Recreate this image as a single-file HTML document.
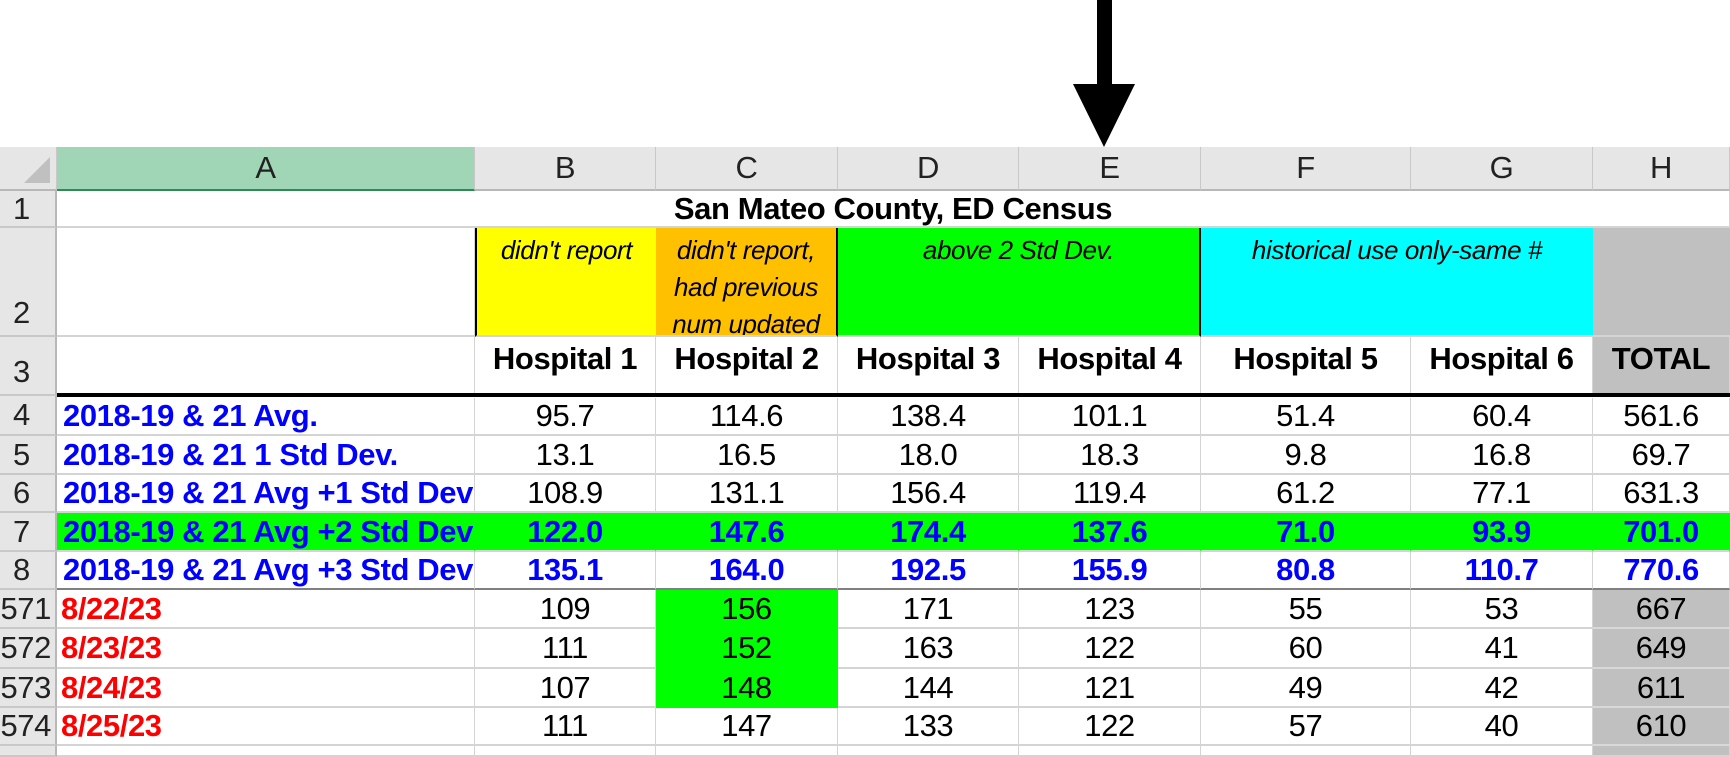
<!DOCTYPE html>
<html><head><meta charset="utf-8">
<style>
html,body{margin:0;padding:0;background:#fff;overflow:hidden;}
body{width:1730px;height:757px;position:relative;overflow:hidden;font-family:"Liberation Sans",Arial,sans-serif;}
.c{position:absolute;box-sizing:border-box;border-right:1px solid #d4d4d4;border-bottom:2px solid #d4d4d4;font-size:31px;letter-spacing:-0.4px;color:#000;display:flex;align-items:center;justify-content:center;white-space:nowrap;overflow:visible;}
.hd{background:#e6e6e6;color:#222;border-right:1px solid #c8c8c8;border-bottom:2px solid #b8b8b8;}
.rh{background:#e6e6e6;color:#222;border-right:2px solid #b8b8b8;border-bottom:2px solid #c8c8c8;justify-content:flex-end;padding-right:4px;overflow:hidden;}
.b{font-weight:bold;}
.blue{color:#0000ff;font-weight:bold;}
.red{color:#ff0000;font-weight:bold;}
.it{font-style:italic;font-size:26px;align-items:flex-start;padding-top:4px;line-height:37px;text-align:center;white-space:normal;}
</style></head>
<body>
<div id="sheet"></div>
<svg style="position:absolute;left:1060px;top:0" width="90" height="150">
<rect x="37" y="0" width="15" height="90" fill="#000"/>
<polygon points="13,84 75,84 44,147" fill="#000"/>
</svg>
<script>
const colLetters=["A","B","C","D","E","F","G","H"];
const hospitals=["Hospital 1","Hospital 2","Hospital 3","Hospital 4","Hospital 5","Hospital 6","TOTAL"];
const statLabels=["2018-19 & 21 Avg.","2018-19 & 21 1 Std Dev.","2018-19 & 21 Avg +1 Std Dev","2018-19 & 21 Avg +2 Std Dev","2018-19 & 21 Avg +3 Std Dev"];
const statValues=[
["95.7","114.6","138.4","101.1","51.4","60.4","561.6"],
["13.1","16.5","18.0","18.3","9.8","16.8","69.7"],
["108.9","131.1","156.4","119.4","61.2","77.1","631.3"],
["122.0","147.6","174.4","137.6","71.0","93.9","701.0"],
["135.1","164.0","192.5","155.9","80.8","110.7","770.6"]];
const dateRows=["6571","6572","6573","6574"];
const dates=["8/22/23","8/23/23","8/24/23","8/25/23"];
const dateValues=[
["109","156","171","123","55","53","667"],
["111","152","163","122","60","41","649"],
["107","148","144","121","49","42","611"],
["111","147","133","122","57","40","610"]];

const X=[0,57,475,656,838,1019,1201,1411,1593,1730];
const Y=[147,191,228,337,396,436,475,513,552,590,629,669,708,746,757];
const S=document.getElementById('sheet');
function cell(x0,x1,y0,y1,cls,txt,style){
  const d=document.createElement('div');
  d.className='c '+(cls||'');
  d.style.left=x0+'px';d.style.top=y0+'px';d.style.width=(x1-x0)+'px';d.style.height=(y1-y0)+'px';
  if(style)d.style.cssText+=style;
  d.innerHTML=txt||'';
  S.appendChild(d);return d;
}
let e;
e=cell(0,X[1],Y[0],Y[1],'hd','<svg width="30" height="30" style="position:absolute;left:22px;top:8px"><polygon points="28,2 28,28 2,28" fill="#c0c0c0"/></svg>');


for(let i=0;i<8;i++){
  e=cell(X[i+1],X[i+2],Y[0],Y[1],'hd',colLetters[i],i===0?'background:#a0d6b6;border-bottom:2px solid #2e8b57;':'');
  
  
}
const rowNums=["1","2","3","4","5","6","7","8"].concat(dateRows,[""]);
for(let r=0;r<rowNums.length;r++){
  let st='';
  if(r<8)st='justify-content:flex-start;padding-left:13px;';
  if(r==1||r==2)st+='align-items:flex-end;padding-bottom:4px;';
  e=cell(0,X[1],Y[r+1],Y[r+2],'rh',rowNums[r],st);
  
  
}
e=cell(X[1],X[9],Y[1],Y[2],'b','San Mateo County, ED Census');


e=cell(X[1],X[2],Y[2],Y[3],'','');


e=cell(X[2],X[3],Y[2],Y[3],'it',"didn't report",'background:#ffff00;border-left:2px solid #000;border-right:none;');


e=cell(X[3],X[4],Y[2],Y[3],'it',"didn't report,<br>had previous<br>num updated",'background:#ffc000;border-right:2px solid #000;overflow:hidden;');


e=cell(X[4],X[6],Y[2],Y[3],'it',"above 2 Std Dev.",'background:#00ff00;border-right:2px solid #000;');


e=cell(X[6],X[8],Y[2],Y[3],'it',"historical use only-same #",'background:#00ffff;border-right:none;');


e=cell(X[8],X[9],Y[2],Y[3],'','','background:#c0c0c0;border-right:none;');


e=cell(X[1],X[2],Y[3],Y[4],'','');


for(let i=0;i<7;i++){
  e=cell(X[i+2],X[i+3],Y[3],Y[4],'b',hospitals[i],'align-items:flex-start;padding-top:4px;'+(i===6?'background:#c0c0c0;':''));
  
  
}
e=document.createElement('div');
e.style.cssText='position:absolute;left:57px;top:393px;width:1673px;height:4px;background:#000;';


S.appendChild(e);
for(let r=0;r<5;r++){
  const y0=Y[4+r]+(r===0?2:0),y1=Y[5+r];
  const green=r===3?'background:#00ff00;border-right-color:#00ff00;':'';
  const bottom=r===4?'border-bottom:2px solid #808080;':'';
  e=cell(X[1],X[2],y0,y1,'blue',statLabels[r],'justify-content:flex-start;padding-left:6px;'+green+bottom);
  
  
  for(let i=0;i<7;i++){
    e=cell(X[i+2],X[i+3],y0,y1,r>=3?'blue':'',statValues[r][i],green+bottom);
    
    
  }
}
for(let r=0;r<4;r++){
  const y0=Y[9+r],y1=Y[10+r];
  e=cell(X[1],X[2],y0,y1,'red',dates[r],'justify-content:flex-start;padding-left:4px;');
  
  
  for(let i=0;i<7;i++){
    let st='';
    if(i===1&&r<3)st='background:#00ff00;border-right-color:#00ff00;border-bottom-color:#00ff00;';
    if(i===6)st='background:#c0c0c0;border-bottom-color:#d8d8d8;';
    e=cell(X[i+2],X[i+3],y0,y1,'',dateValues[r][i],st);
    
    
  }
}
for(let i=0;i<8;i++){
  e=cell(X[i+1],X[i+2],Y[13],Y[14],'','',i===7?'background:#c0c0c0;':'');
  
  
}
</script>
</body></html>
